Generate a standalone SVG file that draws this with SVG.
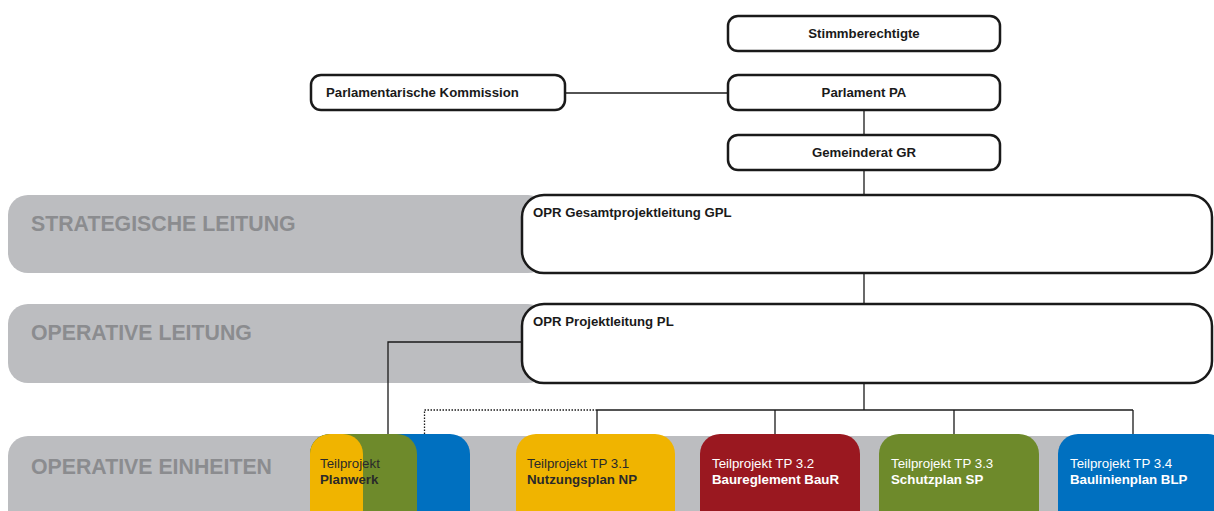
<svg xmlns="http://www.w3.org/2000/svg" width="1214" height="511" viewBox="0 0 1214 511">
<style>
.band{fill:#bcbdc0}
.bandtxt{font-family:"Liberation Sans",Arial,sans-serif;font-weight:bold;font-size:21.3px;fill:#8b8c8f}
.box{fill:#fff;stroke:#1a1a1a;stroke-width:2.5}
.bt{font-family:"Liberation Sans",Arial,sans-serif;font-weight:bold;font-size:13.2px;fill:#1a1a1a}
.ln{stroke:#1a1a1a;stroke-width:1.3;fill:none}
.dot{stroke:#1a1a1a;stroke-width:1.3;fill:none;stroke-dasharray:1.5 1.5}
.tr{font-family:"Liberation Sans",Arial,sans-serif;font-size:13.3px}
.tb{font-family:"Liberation Sans",Arial,sans-serif;font-size:13.3px;font-weight:bold}
.dk{fill:#2a2a2a}
.wh{fill:#fff}
</style>
<g id="bands">
<rect class="band" x="8" y="195" width="540" height="78" rx="20"/>
<rect class="band" x="8" y="304" width="540" height="79" rx="20"/>
<rect class="band" x="8" y="436" width="1230" height="100" rx="20"/>
<text class="bandtxt" x="31" y="231">STRATEGISCHE LEITUNG</text>
<text class="bandtxt" x="31" y="340">OPERATIVE LEITUNG</text>
<text class="bandtxt" x="31" y="474">OPERATIVE EINHEITEN</text>
</g>
<g id="connectors">
<line class="ln" x1="565" y1="93" x2="728" y2="93"/>
<line class="ln" x1="864" y1="110" x2="864" y2="135"/>
<line class="ln" x1="864" y1="170" x2="864" y2="195"/>
<line class="ln" x1="864" y1="273" x2="864" y2="304"/>
<line class="ln" x1="864" y1="383" x2="864" y2="410"/>
<line class="ln" x1="597" y1="410" x2="1133" y2="410"/>
<line class="ln" x1="597" y1="410" x2="597" y2="435"/>
<line class="ln" x1="775" y1="410" x2="775" y2="435"/>
<line class="ln" x1="954" y1="410" x2="954" y2="435"/>
<line class="ln" x1="1133" y1="410" x2="1133" y2="435"/>
<polyline class="dot" points="597,410 424.5,410 424.5,435"/>
<polyline class="ln" points="522,342 388,342 388,435"/>
</g>
<g id="stimmberechtigte">
<rect class="box" x="728" y="16" width="272" height="35" rx="10"/>
<text class="bt" x="864" y="38" text-anchor="middle">Stimmberechtigte</text>
</g>
<g id="kommission">
<rect class="box" x="311" y="75" width="254" height="35" rx="10"/>
<text class="bt" x="326" y="97">Parlamentarische Kommission</text>
</g>
<g id="parlament">
<rect class="box" x="728" y="75" width="272" height="35" rx="10"/>
<text class="bt" x="864" y="97" text-anchor="middle">Parlament PA</text>
</g>
<g id="gemeinderat">
<rect class="box" x="728" y="135" width="272" height="35" rx="10"/>
<text class="bt" x="864" y="157" text-anchor="middle">Gemeinderat GR</text>
</g>
<g id="gpl">
<rect class="box" x="522" y="195" width="690" height="78" rx="22"/>
<text class="bt" x="533" y="217">OPR Gesamtprojektleitung GPL</text>
</g>
<g id="pl">
<rect class="box" x="522" y="304" width="690" height="79" rx="22"/>
<text class="bt" x="533" y="326">OPR Projektleitung PL</text>
</g>
<g id="planwerk">
<rect x="310" y="434" width="160" height="110" rx="20" fill="#0070c0"/>
<rect x="310" y="434" width="107" height="110" rx="20" fill="#6e8a2b"/>
<rect x="310" y="434" width="53" height="110" rx="20" fill="#f0b400"/>
<text class="tr dk" x="320" y="468">Teilprojekt</text>
<text class="tb dk" x="320" y="484">Planwerk</text>
</g>
<g id="tp31">
<rect x="516" y="434" width="159" height="110" rx="20" fill="#f0b400"/>
<text class="tr dk" x="527" y="468">Teilprojekt TP 3.1</text>
<text class="tb dk" x="527" y="484">Nutzungsplan NP</text>
</g>
<g id="tp32">
<rect x="700" y="434" width="160" height="110" rx="20" fill="#9a1820"/>
<text class="tr wh" x="712" y="468">Teilprojekt TP 3.2</text>
<text class="tb wh" x="712" y="484">Baureglement BauR</text>
</g>
<g id="tp33">
<rect x="879" y="434" width="160" height="110" rx="20" fill="#6e8a2b"/>
<text class="tr wh" x="891" y="468">Teilprojekt TP 3.3</text>
<text class="tb wh" x="891" y="484">Schutzplan SP</text>
</g>
<g id="tp34">
<rect x="1058" y="434" width="170" height="110" rx="20" fill="#0070c0"/>
<text class="tr wh" x="1070" y="468">Teilprojekt TP 3.4</text>
<text class="tb wh" x="1070" y="484">Baulinienplan BLP</text>
</g>
</svg>
